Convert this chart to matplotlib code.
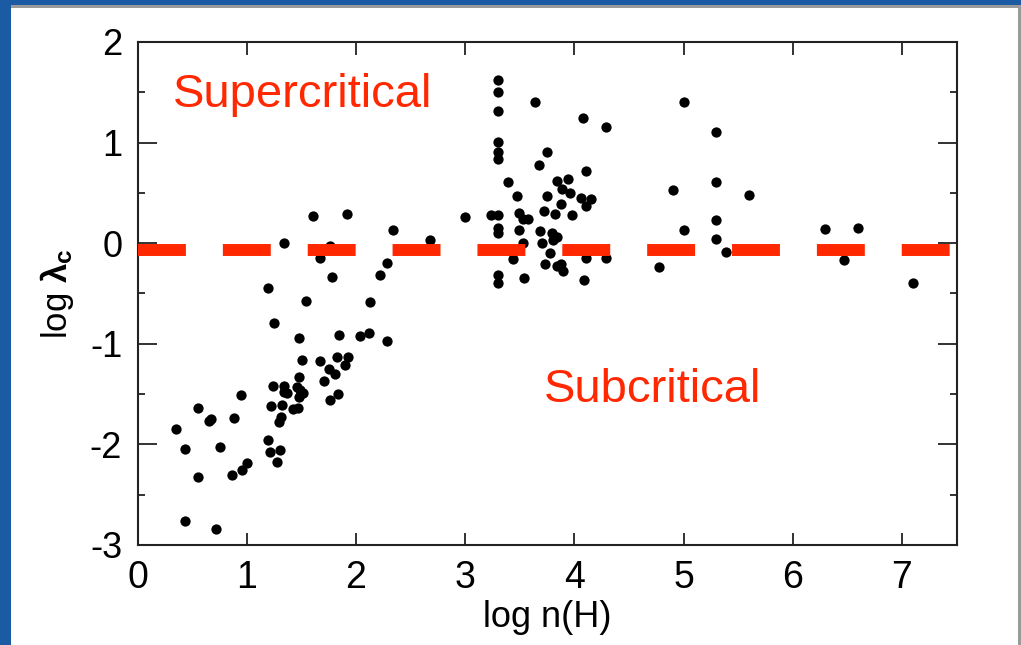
import matplotlib
matplotlib.use("Agg")
import matplotlib.pyplot as plt
from matplotlib.patches import Rectangle
from matplotlib.ticker import MultipleLocator

plt.rcParams['font.family'] = ['Liberation Sans', 'DejaVu Sans']
plt.rcParams['axes.unicode_minus'] = False
plt.rcParams['mathtext.fontset'] = 'custom'
plt.rcParams['mathtext.rm'] = 'Liberation Sans'
plt.rcParams['mathtext.bf'] = 'Liberation Sans:bold'
plt.rcParams['mathtext.it'] = 'Liberation Sans:italic'

# ---- data: log n(H) and log lambda_c ----
log_nH = [
    1.344, 1.766, 1.671, 1.784, 2.282, 2.223, 2.342, 2.679, 1.198, 1.247,
    1.546, 2.132, 1.476, 1.845, 2.038, 2.123, 2.282, 1.509, 1.671, 1.824,
    1.925, 1.903, 1.751, 1.811, 1.705, 1.476, 1.244, 1.344, 1.344, 1.458,
    1.488, 1.518, 1.482, 1.366, 1.836, 1.763, 1.220, 1.323, 1.427, 1.467,
    0.948, 0.554, 0.350, 0.655, 0.673, 0.886, 1.314, 1.293, 1.198, 1.211,
    1.305, 1.280, 0.758, 0.438, 0.554, 0.868, 0.960, 1.003, 0.438, 0.716,
    1.607, 1.918,
    3.30, 3.30, 3.30, 3.30, 3.30, 3.30, 3.643, 4.082, 4.290, 3.747,
    3.677, 4.104, 3.390, 3.839, 3.945, 3.885, 3.961, 3.478, 3.747, 4.059,
    4.153, 4.104, 3.875, 3.723, 3.826, 3.979, 2.999, 3.234, 3.30, 3.491,
    3.533, 3.579, 3.30, 3.30, 3.491, 3.689, 3.796, 3.839, 3.808, 3.701,
    3.527, 3.777, 3.439, 4.104, 4.290, 3.734, 3.839, 3.878, 3.899, 3.542,
    4.092, 3.30, 3.30,
    5.00, 5.30, 4.90, 5.30, 5.60, 5.00, 5.30, 5.30, 5.39, 4.78,
    6.30, 6.60, 6.47, 7.10,
]
log_lambda_c = [
    0.005, -0.028, -0.150, -0.333, -0.197, -0.319, 0.131, 0.032, -0.445, -0.796,
    -0.572, -0.582, -0.945, -0.910, -0.922, -0.896, -0.972, -1.161, -1.168, -1.128,
    -1.128, -1.211, -1.254, -1.300, -1.373, -1.330, -1.419, -1.419, -1.476, -1.426,
    -1.459, -1.492, -1.526, -1.492, -1.496, -1.559, -1.615, -1.608, -1.651, -1.641,
    -1.506, -1.635, -1.850, -1.767, -1.747, -1.740, -1.725, -1.774, -1.959, -2.073,
    -2.059, -2.172, -2.026, -2.049, -2.324, -2.301, -2.251, -2.188, -2.764, -2.838,
    0.270, 0.290,
    1.622, 1.503, 1.317, 1.007, 0.907, 0.834, 1.404, 1.245, 1.158, 0.910,
    0.780, 0.721, 0.605, 0.615, 0.638, 0.539, 0.496, 0.469, 0.469, 0.449,
    0.436, 0.370, 0.387, 0.320, 0.293, 0.283, 0.257, 0.280, 0.280, 0.297,
    0.241, 0.241, 0.148, 0.098, 0.131, 0.118, 0.101, 0.065, 0.032, 0.005,
    -0.001, -0.094, -0.157, -0.144, -0.144, -0.207, -0.224, -0.207, -0.276, -0.350,
    -0.369, -0.316, -0.399,
    1.407, 1.108, 0.529, 0.605, 0.479, 0.131, 0.228, 0.039, -0.085, -0.234,
    0.144, 0.154, -0.167, -0.393,
]
critical_level = -0.07
x_ticks = [0, 1, 2, 3, 4, 5, 6, 7]
y_ticks = [-3, -2, -1, 0, 1, 2]
label_super = "Supercritical"
label_sub = "Subcritical"

RED = '#ff2800'
W, H = 1021, 645
fig = plt.figure(figsize=(W / 100, H / 100), dpi=100, facecolor='#1b5ba3')

# slide panel
fig.patches.append(Rectangle((11 / W, 0), (W - 11) / W, (H - 5) / H,
                             transform=fig.transFigure, facecolor='#9a9a9a',
                             edgecolor='none', zorder=-2))
fig.patches.append(Rectangle((11 / W, 0), (1018 - 11) / W, (H - 8) / H,
                             transform=fig.transFigure, facecolor='white',
                             edgecolor='none', zorder=-1))

ax = fig.add_axes([137.5 / W, (H - 545) / H, 819 / W, 503 / H])
ax.set_facecolor('white')

ax.plot(log_nH, log_lambda_c, 'o', color='black', markersize=7.4,
        markeredgewidth=0, zorder=3)

lw = 8.6
ax.axhline(critical_level, color=RED, linewidth=lw,
           linestyle=(0, (34.5 / lw, 26.6 / lw)), dash_capstyle='butt', zorder=4)

ax.set_xlim(0, 7.5)
ax.set_ylim(-3, 2)
ax.set_xticks(x_ticks)
ax.set_yticks(y_ticks)
ax.yaxis.set_minor_locator(MultipleLocator(0.5))

ax.tick_params(axis='both', which='both', direction='in', top=True, right=True,
               width=1.3, color='#222222')
ax.tick_params(axis='x', which='major', length=9, pad=11, labelsize=27)
ax.tick_params(axis='y', which='major', length=13.7, pad=11, labelsize=26)
ax.tick_params(axis='y', which='minor', length=5)
for s in ax.spines.values():
    s.set_linewidth(1.5)
    s.set_color('#222222')

ax.set_xlabel('log n(H)', fontsize=26, labelpad=3)
ax.set_ylabel(r'log $\mathbf{\lambda_c}$', fontsize=25, labelpad=10)

ax.text(0.325, 1.354, label_super, color=RED, fontsize=34, va='baseline', ha='left')
ax.text(3.718, -1.578, label_sub, color=RED, fontsize=34, va='baseline', ha='left')

fig.savefig('out.png', dpi=100, facecolor=fig.get_facecolor())
